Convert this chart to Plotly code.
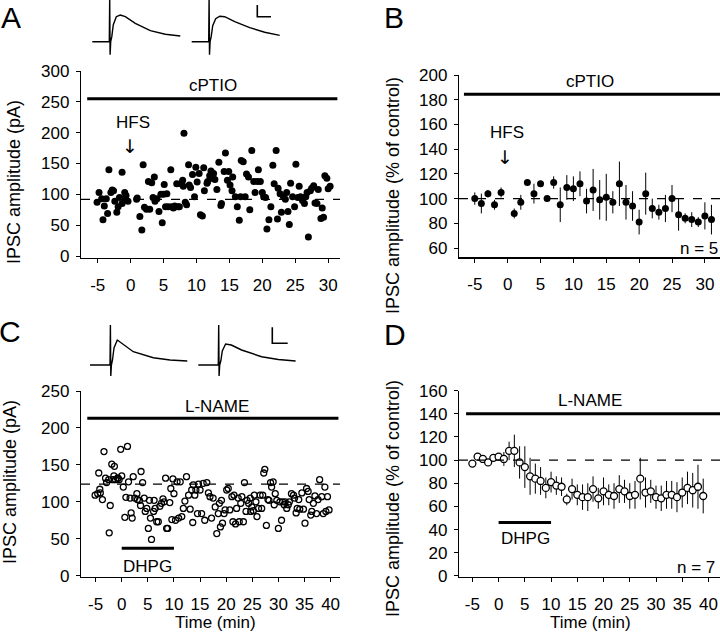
import plotly.graph_objects as go

W, H = 720, 634
FONT = "Liberation Sans, Arial, sans-serif"

# ---------------- Panel A: single cell, cPTIO + HFS ----------------
a_time = [-4.8, -5.1, -4.4, -4.2, -4.0, -3.7, -3.5, -3.3, -3.0, -2.8, -2.6, -2.4, -2.1, -1.9, -1.7, -1.3, -1.3, -1.0, -0.9, -0.7, -0.4,
          0.9, 1.0, 1.4, 1.7, 1.9, 2.1, 2.4, 2.7, 2.9, 3.2, 3.4, 3.6, 3.7, 4.0, 4.3, 4.6, 4.8, 5.1, 5.0, 5.3, 5.5, 5.7, 6.1, 6.2, 6.5,
          6.7, 7.0, 7.2, 7.4, 7.6, 7.9, 8.0, 8.1, 8.3, 8.5, 8.8, 8.9, 9.1, 9.4, 9.7, 9.9, 10.1, 10.4, 10.6, 10.9, 11.1, 11.2, 11.6,
          11.7, 12.0, 12.2, 12.3, 12.6, 12.8, 13.1, 13.4, 13.7, 13.8, 14.2, 14.4, 14.7, 14.9, 15.1, 15.4, 15.5, 15.9, 16.2, 16.5,
          16.7, 16.8, 17.1, 17.4, 17.6, 17.9, 18.1, 18.4, 18.7, 18.9, 19.2, 19.4, 19.7, 20.0, 20.2, 20.5, 20.7, 21.0, 21.3, 21.6,
          21.8, 22.1, 22.3, 22.4, 22.7, 22.9, 23.2, 23.5, 23.7, 23.9, 24.1, 24.3, 24.6, 24.9, 25.1, 25.4, 25.6, 25.8, 26.1, 26.4,
          26.6, 26.8, 27.0, 27.3, 27.5, 27.8, 28.0, 28.3, 28.5, 28.9, 29.1, 29.3, 29.5, 29.8, 30.0, 30.3]
a_amp = [103, 87, 93, 59, 81, 93, 69, 140, 103, 107, 106, 89, 71, 80, 95, 85, 136, 92, 103, 98, 89,
         92, 94, 64, 42, 148, 79, 76, 121, 76, 119, 95, 128, 89, 93, 72, 100, 54, 116, 100, 80, 101, 80, 140, 80, 78,
         81, 117, 80, 80, 117, 123, 113, 199, 87, 83, 148, 115, 111, 132, 96, 144, 120, 134, 67, 65, 143, 106, 118,
         121, 130, 138, 126, 134, 124, 108, 152, 82, 85, 137, 167, 123, 137, 115, 106, 128, 96, 80, 58,
         96, 155, 153, 96, 133, 128, 75, 171, 121, 103, 121, 140, 121, 103, 96, 95, 44, 59, 80, 147,
         117, 171, 60, 110, 101, 71, 96, 92, 103, 72, 51, 118, 96, 80, 149, 95, 113, 96, 90, 85,
         96, 103, 31, 106, 110, 114, 86, 85, 108, 61, 78, 63, 130, 126, 109, 113]
a_baseline = 92
assert len(a_time) == len(a_amp)

# ---------------- Panel B: summary, cPTIO + HFS (n = 5) ----------------
b_time = [-5, -4, -3, -2, -1] + list(range(1, 32))
b_mean = [100, 96, 104, 95, 105, 88, 97, 113, 104, 112, 100, 113, 95, 109, 108, 112, 98, 107, 99, 101,
          97, 112, 97, 94, 81, 104, 92, 89, 92, 100, 87, 84, 83, 81, 86, 83]
b_sem = [5, 8, 3, 4, 4, 4, 6, 2, 8, 2, 1, 5, 14, 10, 10, 10, 10, 17, 16, 19,
         9, 18, 14, 12, 10, 17, 8, 6, 11, 11, 13, 4, 6, 4, 11, 12]
assert len(b_time) == len(b_mean) == len(b_sem)

# ---------------- Panel C: single cell, L-NAME + DHPG ----------------
c_time = [-5.1, -4.6, -4.4, -4.2, -4.1, -3.7, -3.4, -3.1, -2.9, -2.5,
          -2.4, -2.2, -1.9, -1.7, -1.5, -1.4, -1.2, -0.8, -0.7, -0.5,
          -0.2, 0.0, 0.3, 0.6, 0.8, 1.1, 1.3, 1.6, 1.8, 2.0,
          2.2, 2.5, 2.9, 3.0, 3.4, 3.6, 3.7, 4.0, 4.3, 4.5,
          4.8, 5.1, 5.3, 5.5, 5.7, 6.1, 6.2, 6.4, 6.7, 7.0,
          7.3, 7.6, 7.9, 8.1, 8.4, 8.6, 8.8, 9.2, 9.4, 9.6,
          9.8, 10.0, 10.3, 10.6, 10.9, 11.2, 11.5, 11.8, 12.1, 12.4,
          12.8, 13.1, 13.4, 13.6, 13.7, 14.0, 14.2, 14.5, 14.7, 15.0,
          15.3, 15.6, 15.9, 16.3, 16.6, 16.9, 17.2, 17.5, 17.9, 18.2,
          18.5, 18.7, 18.9, 19.1, 19.3, 19.6, 19.8, 20.1, 20.4, 20.7,
          21.1, 21.3, 21.5, 21.8, 22.0, 22.3, 22.5, 22.8, 23.0, 23.3,
          23.5, 23.8, 24.0, 24.3, 24.6, 24.7, 24.9, 25.2, 25.4, 25.7,
          25.9, 26.2, 26.5, 26.8, 27.0, 27.2, 27.4, 27.7, 28.0, 28.2,
          28.5, 28.7, 29.0, 29.2, 29.4, 29.7, 30.0, 30.3, 30.6, 30.8,
          31.1, 31.3, 31.6, 31.9, 32.1, 32.5, 32.9, 33.1, 33.4, 33.6,
          33.9, 34.1, 34.5, 34.8, 35.1, 35.4, 35.7, 35.9, 36.2, 36.4,
          36.7, 37.0, 37.3, 37.6, 37.9, 38.3, 38.6, 38.9, 39.1, 39.4,
          39.7]
c_amp = [109, 111, 139, 117, 112, 103, 168, 132, 126, 130,
         58, 95, 151, 130, 135, 148, 130, 132, 132, 130,
         171, 135, 120, 79, 106, 175, 127, 105, 85, 78,
         134, 105, 111, 103, 102, 95, 141, 126, 105, 87,
         91, 64, 102, 78, 49, 87, 102, 91, 73, 73,
         94, 98, 104, 100, 132, 64, 64, 99, 118, 76,
         131, 111, 75, 127, 78, 127, 80, 91, 101, 134,
         109, 90, 116, 72, 123, 109, 116, 84, 124, 116,
         84, 125, 75, 126, 112, 107, 78, 105, 93, 57,
         84, 98, 66, 102, 71, 84, 89, 116, 118, 89,
         107, 73, 109, 70, 91, 105, 73, 98, 107, 73,
         126, 87, 102, 98, 105, 87, 93, 88, 109, 100,
         80, 91, 109, 91, 109, 139, 144, 68, 103, 102,
         126, 120, 127, 96, 111, 102, 64, 100, 75, 100,
         96, 100, 91, 96, 100, 111, 109, 105, 85, 91,
         103, 90, 112, 90, 71, 118, 114, 103, 82, 87,
         98, 108, 84, 103, 130, 107, 84, 120, 87, 107,
         89]
c_baseline = 124
assert len(c_time) == len(c_amp)

# ---------------- Panel D: summary, L-NAME + DHPG (n = 7) ----------------
d_time = list(range(-5, 40))
d_mean = [97, 103, 101, 98, 102, 103, 101, 108, 108, 98, 94, 86, 84, 82, 76, 81, 78, 77, 66, 75,
          70, 68, 68, 75, 67, 73, 70, 69, 75, 73, 69, 70, 84, 72, 73, 68, 67, 70, 70, 68,
          72, 76, 74, 77, 69]
d_sem = [3, 3, 3, 3, 3, 3, 6, 8, 14, 14, 18, 16, 13, 12, 9, 9, 8, 8, 5, 9,
         9, 11, 12, 11, 9, 12, 9, 11, 12, 10, 11, 12, 18, 13, 10, 10, 11, 12, 12, 13,
         13, 14, 15, 19, 15]
assert len(d_time) == len(d_mean) == len(d_sem)

# ---------------- Tick labels ----------------
ticks_30 = list(range(-5, 31, 5))
ticks_40 = list(range(-5, 41, 5))
ticklabels_30 = [str(v).replace("\u2212", "-") for v in ticks_30]
ticklabels_40 = [str(v).replace("\u2212", "-") for v in ticks_40]

# ---------------- Example current traces ----------------
trA_t = [0, 17, 17.4, 17.8, 18.4, 19.5, 21, 24, 28, 33, 43, 58, 73, 88]
trA_1 = [0, 0, 45, -13, 0, 5, 17, 25, 26.7, 25, 18.4, 11, 7.4, 5.7]
trA_2 = [0, 0, 45, -13, 0, 5, 16, 23, 25.5, 25, 20, 14, 9.5, 6.3]
trA_offset = 99.4
trC_t = [0, 20, 20.4, 20.8, 21.4, 22.5, 24, 27.3, 33, 43.3, 63.3, 80, 97.3]
trC_1 = [0, 0, 40, -11, 0, 5, 17, 25, 21, 13.3, 7.3, 5, 4]
trC_2 = [0, 0, 40, -11, 0, 4, 14, 21, 20, 15, 8.3, 5.5, 4]
trC_offset = 108.3


def px_x(x):
    return x / W


def px_y(y):
    return 1 - y / H


fig = go.Figure()

# Panel A scatter
fig.add_trace(go.Scatter(x=a_time, y=a_amp, mode="markers", xaxis="x", yaxis="y",
                         marker=dict(size=7, color="black")))
# Panel B
fig.add_trace(go.Scatter(x=b_time, y=b_mean, mode="markers", xaxis="x2", yaxis="y2",
                         marker=dict(size=7, color="black"),
                         error_y=dict(type="data", array=b_sem, color="black", thickness=1, width=0)))
# Panel C
fig.add_trace(go.Scatter(x=c_time, y=c_amp, mode="markers", xaxis="x3", yaxis="y3",
                         marker=dict(size=6, symbol="circle-open", color="black", line=dict(width=1.3))))
# Panel D
fig.add_trace(go.Scatter(x=d_time, y=d_mean, mode="markers", xaxis="x4", yaxis="y4",
                         marker=dict(size=7, color="white", line=dict(color="black", width=1.3)),
                         error_y=dict(type="data", array=d_sem, color="black", thickness=1, width=0)))

# Traces A
fig.add_trace(go.Scatter(x=trA_t, y=trA_1, mode="lines", xaxis="x5", yaxis="y5",
                         line=dict(color="black", width=1.4)))
fig.add_trace(go.Scatter(x=[t + trA_offset for t in trA_t], y=trA_2, mode="lines", xaxis="x5", yaxis="y5",
                         line=dict(color="black", width=1.4)))
fig.add_trace(go.Scatter(x=[165, 165, 178.7], y=[36.7, 25, 25], mode="lines", xaxis="x5", yaxis="y5",
                         line=dict(color="black", width=1.6)))
# Traces C
fig.add_trace(go.Scatter(x=trC_t, y=trC_1, mode="lines", xaxis="x6", yaxis="y6",
                         line=dict(color="black", width=1.4)))
fig.add_trace(go.Scatter(x=[t + trC_offset for t in trC_t], y=trC_2, mode="lines", xaxis="x6", yaxis="y6",
                         line=dict(color="black", width=1.4)))
fig.add_trace(go.Scatter(x=[182.3, 182.3, 197.7], y=[37.7, 21.7, 21.7], mode="lines", xaxis="x6", yaxis="y6",
                         line=dict(color="black", width=1.6)))


def xax(dom, rng, tickvals, ticktext):
    return dict(domain=[px_x(dom[0]), px_x(dom[1])], range=rng, tickmode="array",
                tickvals=tickvals, ticktext=ticktext,
                ticks="outside", ticklen=4, tickwidth=1, tickcolor="black", automargin=False,
                showline=True, linecolor="black", linewidth=1.2, showgrid=False, zeroline=False,
                tickfont=dict(size=17, color="black", family=FONT), ticklabelstandoff=7)


def yax(dom, rng, tickvals, anchor):
    return dict(domain=[px_y(dom[1]), px_y(dom[0])], range=rng, tickvals=tickvals, anchor=anchor,
                ticks="outside", ticklen=4, tickwidth=1, tickcolor="black", automargin=False,
                showline=True, linecolor="black", linewidth=1.2, showgrid=False, zeroline=False,
                tickfont=dict(size=17, color="black", family=FONT), ticklabelstandoff=3)


hidden = dict(visible=False, showgrid=False, zeroline=False, automargin=False)

fig.update_layout(
    template="none",
    width=W, height=H, margin=dict(l=0, r=0, t=0, b=0, pad=0, autoexpand=False),
    paper_bgcolor="white", plot_bgcolor="white", showlegend=False, hovermode=False,
    font=dict(family=FONT, color="black", size=17),
    xaxis=dict(xax((81, 340), [-7.54, 31.8], ticks_30, ticklabels_30), anchor="y"),
    yaxis=yax((71, 258), [-3.2, 300], list(range(0, 301, 50)), "x"),
    xaxis2=dict(xax((459, 720), [-7.4, 32.3], ticks_30, ticklabels_30), anchor="y2"),
    yaxis2=yax((75, 257.3), [52.5, 200], list(range(60, 201, 20)), "x2"),
    xaxis3=dict(xax((81, 340), [-7.8, 41.8], ticks_40, ticklabels_40), anchor="y3"),
    yaxis3=yax((391, 577), [-1.8, 250], list(range(0, 251, 50)), "x3"),
    xaxis4=dict(xax((459, 720), [-7.55, 42.2], ticks_40, ticklabels_40), anchor="y4"),
    yaxis4=yax((390.7, 577), [-1, 160], list(range(0, 161, 20)), "x4"),
    xaxis5=dict(hidden, domain=[px_x(85), px_x(345)], range=[-7.3, 252.7], anchor="y5"),
    yaxis5=dict(hidden, domain=[px_y(60), px_y(0)], range=[-18.3, 41.7], anchor="x5"),
    xaxis6=dict(hidden, domain=[px_x(85), px_x(345)], range=[-5, 255], anchor="y6"),
    yaxis6=dict(hidden, domain=[px_y(385), px_y(315)], range=[-20, 50], anchor="x6"),
)

# Bars and baselines (drug application bars, dashed baseline)
shapes = [
    dict(type="line", xref="x", yref="y", x0=-6.6, x1=31.4, y0=255, y1=255, line=dict(color="black", width=3)),
    dict(type="line", xref="x", yref="y", x0=-7.54, x1=31.8, y0=a_baseline, y1=a_baseline,
         line=dict(color="black", width=1.3, dash="dash")),
    dict(type="line", xref="x2", yref="y2", x0=-6.65, x1=32.3, y0=184.5, y1=184.5, line=dict(color="black", width=3)),
    dict(type="line", xref="x2", yref="y2", x0=-7.4, x1=32.3, y0=100, y1=100,
         line=dict(color="black", width=1.3, dash="dash")),
    dict(type="line", xref="x3", yref="y3", x0=-6.6, x1=41.5, y0=213, y1=213, line=dict(color="black", width=3)),
    dict(type="line", xref="x3", yref="y3", x0=-7.8, x1=41.8, y0=c_baseline, y1=c_baseline,
         line=dict(color="black", width=1.3, dash="dash")),
    dict(type="line", xref="x3", yref="y3", x0=0, x1=10, y0=37, y1=37, line=dict(color="black", width=3)),
    dict(type="line", xref="x4", yref="y4", x0=-6.2, x1=42.2, y0=140, y1=140, line=dict(color="black", width=3)),
    dict(type="line", xref="x4", yref="y4", x0=-7.55, x1=42.2, y0=100, y1=100,
         line=dict(color="black", width=1.3, dash="dash")),
    dict(type="line", xref="x4", yref="y4", x0=0, x1=10, y0=46, y1=46, line=dict(color="black", width=3)),
]
fig.update_layout(shapes=shapes)


def ann(text, x, y, size=17, angle=0, xanchor="center", family=FONT):
    return dict(text=text, x=px_x(x), y=px_y(y), xref="paper", yref="paper", showarrow=False,
                xanchor=xanchor, yanchor="middle", textangle=angle,
                font=dict(size=size, color="black", family=family))


ARROW_FONT = "DejaVu Sans"
annotations = [
    ann("A", 11, 17, 30), ann("B", 394, 17, 30), ann("C", 10, 331, 30), ann("D", 395, 334, 30),
    ann("IPSC amplitude (pA)", 14, 182, 18, -90),
    ann("IPSC amplitude (% of control)", 393, 195, 18, -90),
    ann("IPSC amplitude (pA)", 10, 482, 18, -90),
    ann("IPSC amplitude (% of control)", 393, 498, 18, -90),
    ann("cPTIO", 213, 85), ann("HFS", 133, 122), ann("↓", 130, 146, 19, family=ARROW_FONT),
    ann("cPTIO", 590, 82), ann("HFS", 507, 132), ann("↓", 505, 157, 19, family=ARROW_FONT),
    ann("n = 5", 720, 248, 17, 0, "right"),
    ann("L-NAME", 217, 406), ann("DHPG", 147, 566), ann("Time (min)", 215, 622),
    ann("L-NAME", 590, 400), ann("DHPG", 525, 538), ann("Time (min)", 590, 622),
    ann("n = 7", 717, 567, 17, 0, "right"),
]
fig.update_layout(annotations=annotations)

fig.write_html("out.html", config={"displayModeBar": False, "staticPlot": True},
               post_script="document.body.style.margin='0';document.body.style.overflow='hidden';")
